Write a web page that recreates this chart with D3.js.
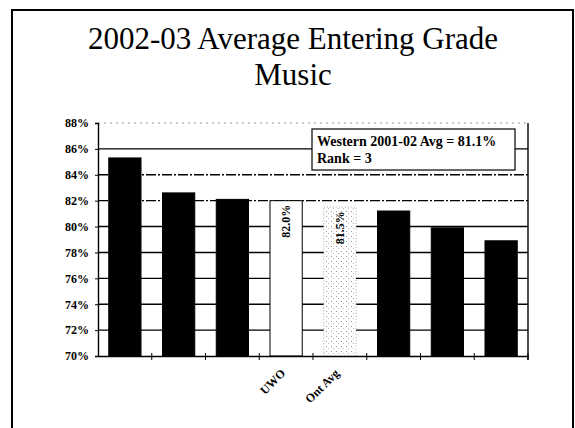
<!DOCTYPE html>
<html>
<head>
<meta charset="utf-8">
<script src="https://cdn.jsdelivr.net/npm/d3@7"></script>
<style>
  body { margin: 0; background: #fff; }
  svg { display: block; }
</style>
</head>
<body>
<svg width="575" height="428"></svg>
<script>
// chart data
const categories = ["s1", "s2", "s3", "UWO", "Ont Avg", "s6", "s7", "s8"];
const tickLabels = ["", "", "", "UWO", "Ont Avg", "", "", ""];
const values = [85.3, 82.6, 82.1, 82.0, 81.5, 81.2, 79.9, 78.9];
const barLabels = ["", "", "", "82.0%", "81.5%", "", "", ""];
const yTicks = [70, 72, 74, 76, 78, 80, 82, 84, 86, 88];
const titleLines = ["2002-03 Average Entering Grade", "Music"];
const noteLines = ["Western 2001-02 Avg = 81.1%", "Rank = 3"];

window.onload = () => {
  const svg = d3.select("svg");
  const serif = "'Times New Roman', 'Liberation Serif', serif";

  const data = categories.map((c, i) => ({ cat: c, label: tickLabels[i], value: values[i], barLabel: barLabels[i] }));

  // slide frame
  svg.append("rect")
    .attr("x", 12).attr("y", 10)
    .attr("width", 561).attr("height", 440)
    .attr("fill", "none").attr("stroke", "#000").attr("stroke-width", 2);

  svg.selectAll("text.title")
    .data(titleLines)
    .enter()
    .append("text")
    .attr("class", "title")
    .attr("x", 293)
    .attr("y", (d, i) => 49 + i * 36)
    .attr("text-anchor", "middle")
    .attr("font-family", serif)
    .attr("font-size", 31)
    .text(d => d);

  const left = 98, right = 528, top = 123, bottom = 356;

  const x = d3.scaleBand()
    .domain(categories)
    .range([left, right])
    .paddingInner(0.4)
    .paddingOuter(0.2);

  const y = d3.scaleLinear()
    .domain([70, 88])
    .range([bottom, top]);

  // stipple pattern for Ont Avg
  const defs = svg.append("defs");
  const pat = defs.append("pattern")
    .attr("id", "dots")
    .attr("width", 5).attr("height", 5)
    .attr("patternUnits", "userSpaceOnUse");
  pat.append("rect").attr("width", 5).attr("height", 5).attr("fill", "#fff");
  pat.append("rect").attr("x", 1).attr("y", 1).attr("width", 1).attr("height", 1).attr("fill", "#999");
  pat.append("rect").attr("x", 3).attr("y", 3).attr("width", 1).attr("height", 1).attr("fill", "#bbb");

  // gridlines
  svg.selectAll("line.grid")
    .data(yTicks.filter(t => t > 70))
    .enter()
    .append("line")
    .attr("class", "grid")
    .attr("x1", left).attr("x2", right)
    .attr("y1", d => y(d)).attr("y2", d => y(d))
    .attr("stroke", d => d === 88 ? "#999" : "#000")
    .attr("stroke-width", d => d === 88 ? 1 : 1.4)
    .attr("stroke-dasharray", d => d === 88 ? "2,4" : (d === 82 || d === 84) ? "10,2,2,2" : null);

  // right edge of plot
  svg.append("line")
    .attr("x1", right).attr("x2", right)
    .attr("y1", top).attr("y2", bottom + 4)
    .attr("stroke", "#000").attr("stroke-width", 1.4);

  // bars
  svg.selectAll("rect.bar")
    .data(data)
    .enter()
    .append("rect")
    .attr("class", "bar")
    .attr("x", d => x(d.cat))
    .attr("y", d => y(d.value))
    .attr("width", x.bandwidth())
    .attr("height", d => y(70) - y(d.value))
    .attr("fill", d => d.cat === "UWO" ? "#fff" : d.cat === "Ont Avg" ? "url(#dots)" : "#000")
    .attr("stroke", d => d.cat === "Ont Avg" ? "#aaa" : "#000")
    .attr("stroke-width", 1)
    .attr("stroke-dasharray", d => d.cat === "Ont Avg" ? "1,2" : null);

  // value labels inside highlighted bars
  svg.selectAll("text.val")
    .data(data.filter(d => d.barLabel))
    .enter()
    .append("text")
    .attr("class", "val")
    .attr("transform", d => `translate(${x(d.cat) + x.bandwidth() / 2 + 4},${y(d.value) + 4}) rotate(-90)`)
    .attr("text-anchor", "end")
    .attr("font-family", serif)
    .attr("font-weight", "bold")
    .attr("font-size", 12)
    .text(d => d.barLabel);

  // y axis
  const yAxis = svg.append("g")
    .attr("transform", `translate(${left},0)`)
    .call(d3.axisLeft(y).tickValues(yTicks).tickSize(3).tickFormat(d => d + "%"));
  yAxis.select(".domain").attr("stroke-width", 1.4);
  yAxis.selectAll("text")
    .attr("font-family", serif)
    .attr("font-weight", "bold")
    .attr("font-size", 12)
    .attr("fill", "#000")
    .attr("x", -9);

  // x axis
  const xAxis = svg.append("g")
    .attr("transform", `translate(0,${bottom})`)
    .call(d3.axisBottom(x).tickSize(0).tickFormat((d, i) => tickLabels[i]));
  xAxis.select(".domain").attr("stroke-width", 1.4);
  xAxis.selectAll("text")
    .attr("font-family", serif)
    .attr("font-weight", "bold")
    .attr("font-size", 12)
    .attr("fill", "#000")
    .attr("text-anchor", "end")
    .attr("dy", null)
    .attr("y", 0)
    .attr("transform", "translate(0,18) rotate(-45)");

  // category boundary ticks
  svg.selectAll("line.xtick")
    .data(categories.slice(1).concat(["end"]))
    .enter()
    .append("line")
    .attr("class", "xtick")
    .attr("x1", d => d === "end" ? right : x(d) - x.step() * x.paddingInner() / 2)
    .attr("x2", d => d === "end" ? right : x(d) - x.step() * x.paddingInner() / 2)
    .attr("y1", bottom - 3).attr("y2", bottom + 4)
    .attr("stroke", "#000").attr("stroke-width", 1);

  // note box
  const note = svg.append("g");
  note.append("rect")
    .attr("x", 312).attr("y", 129)
    .attr("width", 203).attr("height", 41)
    .attr("fill", "#fff").attr("stroke", "#000").attr("stroke-width", 1.2);
  note.selectAll("text")
    .data(noteLines)
    .enter()
    .append("text")
    .attr("x", 317)
    .attr("y", (d, i) => 146 + i * 17)
    .attr("font-family", serif)
    .attr("font-weight", "bold")
    .attr("font-size", 14)
    .text(d => d);
};
</script>
</body>
</html>
